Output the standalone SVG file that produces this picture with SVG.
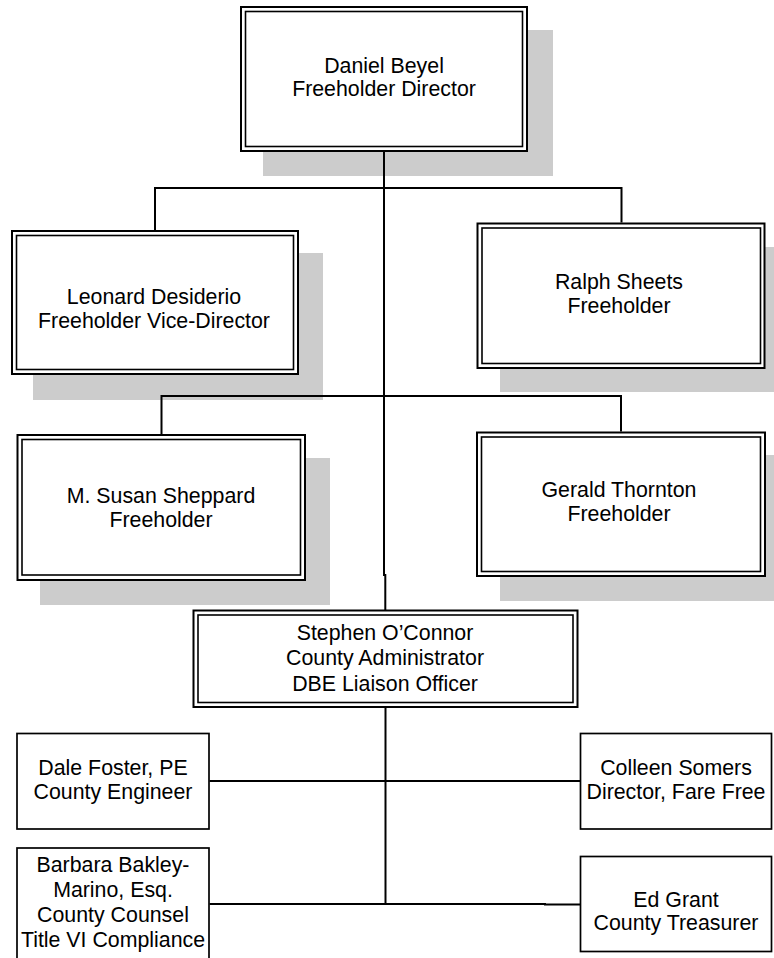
<svg xmlns="http://www.w3.org/2000/svg" width="774" height="958" viewBox="0 0 774 958">
<style>
.bg{fill:#ffffff}
.sh{fill:#cccccc;stroke:none}
.o{fill:#ffffff;stroke:#000000;stroke-width:2}
.i{fill:none;stroke:#000000;stroke-width:1.6}
.s{fill:#ffffff;stroke:#000000;stroke-width:1.7}
.t{font-family:"Liberation Sans",Arial,Helvetica,sans-serif;font-size:21.33px;fill:#000000;text-anchor:middle}
.c{fill:none;stroke:#000000;stroke-width:2}
</style>
<rect class="bg" x="0" y="0" width="774" height="958"/>
<g id="daniel">
<rect class="sh" x="263" y="30" width="290" height="146"/>
<rect class="o" x="241" y="7" width="286" height="144"/>
<rect class="i" x="245.5" y="11.5" width="277" height="135"/>
<text class="t" x="384" y="72.5">Daniel Beyel</text>
<text class="t" x="384" y="96">Freeholder Director</text>
</g>
<g id="leonard">
<rect class="sh" x="33" y="253" width="290" height="147"/>
<rect class="o" x="12" y="231" width="286" height="143"/>
<rect class="i" x="16.5" y="235.5" width="277" height="134"/>
<text class="t" x="154" y="304">Leonard Desiderio</text>
<text class="t" x="154" y="327.5">Freeholder Vice-Director</text>
</g>
<g id="ralph">
<rect class="sh" x="500" y="247" width="280" height="145"/>
<rect class="o" x="477.5" y="223.5" width="287" height="144.5"/>
<rect class="i" x="482" y="228" width="278.5" height="135.5"/>
<text class="t" x="619" y="289.3">Ralph Sheets</text>
<text class="t" x="619" y="313">Freeholder</text>
</g>
<g id="sheppard">
<rect class="sh" x="40" y="458" width="290" height="147"/>
<rect class="o" x="17.5" y="435" width="287.5" height="145"/>
<rect class="i" x="22" y="439.5" width="278.5" height="135.5"/>
<text class="t" x="161" y="502.7">M. Susan Sheppard</text>
<text class="t" x="161" y="526.7">Freeholder</text>
</g>
<g id="gerald">
<rect class="sh" x="500" y="455" width="280" height="146"/>
<rect class="o" x="477" y="432.5" width="288" height="143.5"/>
<rect class="i" x="481.5" y="437" width="279" height="134.5"/>
<text class="t" x="619" y="496.7">Gerald Thornton</text>
<text class="t" x="619" y="520.7">Freeholder</text>
</g>
<g id="stephen">
<rect class="o" x="193.5" y="610.5" width="384" height="96.5"/>
<rect class="i" x="198" y="615" width="375" height="87.5"/>
<text class="t" x="385" y="640">Stephen O’Connor</text>
<text class="t" x="385" y="665">County Administrator</text>
<text class="t" x="385" y="690.5">DBE Liaison Officer</text>
</g>
<g id="dale">
<rect class="s" x="17" y="733.5" width="192" height="95.5"/>
<text class="t" x="113" y="775">Dale Foster, PE</text>
<text class="t" x="113" y="799">County Engineer</text>
</g>
<g id="barbara">
<rect class="s" x="17" y="848" width="192" height="125"/>
<text class="t" x="113" y="871.7">Barbara Bakley-</text>
<text class="t" x="113" y="896.7">Marino, Esq.</text>
<text class="t" x="113" y="921.7">County Counsel</text>
<text class="t" x="113" y="946.7">Title VI Compliance</text>
</g>
<g id="colleen">
<rect class="s" x="580.5" y="733.5" width="191" height="95.5"/>
<text class="t" x="676" y="775">Colleen Somers</text>
<text class="t" x="676" y="798.5">Director, Fare Free</text>
</g>
<g id="ed">
<rect class="s" x="580.5" y="856.5" width="191" height="95"/>
<text class="t" x="676" y="906.7">Ed Grant</text>
<text class="t" x="676" y="930">County Treasurer</text>
</g>
<g id="connectors">
<path class="c" d="M384,152 V575 H385.3 V610"/>
<path class="c" d="M155,230 V188 H621.5 V222.5"/>
<path class="c" d="M161.5,434 V396 H621 V431.5"/>
<path class="c" d="M385.5,708 V904"/>
<path class="c" d="M209.5,781 H580"/>
<path class="c" d="M209.5,904 H545 V904.5 H580"/>
</g>
</svg>
